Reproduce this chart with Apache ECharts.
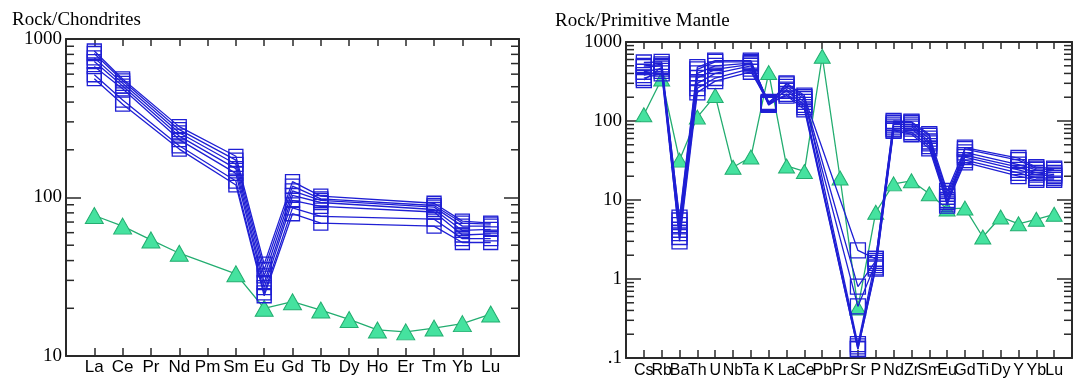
<!DOCTYPE html>
<html>
<head>
<meta charset="utf-8">
<script src="https://cdn.jsdelivr.net/npm/echarts@6/dist/echarts.min.js"></script>
<style>
html, body { margin: 0; padding: 0; background: #fff; }
#chart { width: 1075px; height: 379px; }
</style>
</head>
<body>
<div id="chart"></div>
<script>
// left panel: chondrite normalised REE
const reeElements = ['La', 'Ce', 'Pr', 'Nd', 'Pm', 'Sm', 'Eu', 'Gd', 'Tb', 'Dy', 'Ho', 'Er', 'Tm', 'Yb', 'Lu'];
const reeSamples = [
    [840, 560, null, 280, null, 182, 38, 126, 102, null, null, null, 92, 71, 69],
    [810, 545, null, 268, null, 172, 35, 118, 98, null, null, null, 89, 69, 68],
    [760, 525, null, 256, null, 162, 32, 110, 96, null, null, null, 87, 66, 66],
    [720, 505, null, 244, null, 152, 29, 103, 93, null, null, null, 84, 62, 63],
    [670, 485, null, 232, null, 142, 27, 96, 88, null, null, null, 81, 58, 59],
    [595, 412, null, 212, null, 127, 25, 86, 76, null, null, null, 73, 55, 55],
    [562, 388, null, 202, null, 120, 24, 79, 69, null, null, null, 66, 52, 52]
];
const reeReference = [77, 66, 54, 44.5, null, 33, 20, 22, 19.5, 17, 14.6, 14.2, 15, 16, 18.4];
const reeMinorTicks = [20, 30, 40, 50, 60, 70, 80, 90, 200, 300, 400, 500, 600, 700, 800, 900];

// right panel: primitive mantle normalised spidergram
const spiderElements = ['Cs', 'Rb', 'Ba', 'Th', 'U', 'Nb', 'Ta', 'K', 'La', 'Ce', 'Pb', 'Pr', 'Sr', 'P', 'Nd', 'Zr', 'Sm', 'Eu', 'Gd', 'Ti', 'Dy', 'Y', 'Yb', 'Lu'];
const spiderSamples = [
    [550, 560, 5.5, 450, 560, null, 560, 165, 290, 200, null, null, 2.3, 1.8, 95, 95, 65, 13, 44, null, null, 32, 25, 24],
    [480, 500, 4.8, 400, 500, null, 540, 170, 270, 190, null, null, 0.8, 1.7, 90, 90, 60, 12, 40, null, null, 28, 24, 22],
    [420, 460, 4.2, 350, 450, null, 520, 160, 250, 175, null, null, 0.45, 1.6, 85, 85, 55, 11, 37, null, null, 26, 22, 21],
    [380, 430, 3.8, 300, 400, null, 500, 175, 240, 160, null, null, 0.14, 1.5, 80, 80, 52, 10, 35, null, null, 24, 21, 20],
    [350, 400, 3.4, 260, 350, null, 460, 160, 220, 150, null, null, 0.13, 1.4, 78, 72, 48, 9.5, 32, null, null, 22, 19, 19],
    [500, 520, 3.0, 230, 320, null, 420, 170, 210, 140, null, null, 0.13, 1.35, 75, 68, 45, 9, 30, null, null, 20, 18, 18],
    [330, 480, 6.0, 480, 580, null, 580, 165, 300, 210, null, null, 0.15, 1.8, 100, 98, 68, 8.5, 46, null, null, 34, 26, 25]
];
const spiderReference = [120, 340, 32, 112, 210, 26, 35, 410, 27, 23, 660, 19, 0.43, 7, 16, 17.5, 12, 7.7, 7.9, 3.4, 6.1, 5, 5.7, 6.6];
const spiderMinorTicks = [0.2, 0.3, 0.4, 0.5, 0.6, 0.7, 0.8, 0.9, 2, 3, 4, 5, 6, 7, 8, 9,
    20, 30, 40, 50, 60, 70, 80, 90, 200, 300, 400, 500, 600, 700, 800, 900];

const BLUE = '#1f1fd4';
const GREEN_LINE = '#23ad70';
const GREEN_FILL = '#45e29f';
const AXIS = '#2a2a2a';
const SERIF = '"Liberation Serif", "Times New Roman", serif';
const SANS = '"Liberation Sans", Arial, sans-serif';

function toPoints(values) {
    let pts = [];
    values.forEach((v, i) => {
        if (v !== null) pts.push([i + 1, v]);
    });
    return pts;
}

function xAxes(gridIndex, names, fontSize, margin) {
    let common = {
        gridIndex: gridIndex,
        type: 'value',
        min: 0,
        max: names.length + 1,
        interval: 1,
        splitLine: {show: false},
        axisLine: {onZero: false, lineStyle: {color: AXIS, width: 2}},
        axisTick: {inside: true, length: 8, lineStyle: {color: AXIS, width: 1.5}}
    };
    return [
        Object.assign({}, common, {
            position: 'bottom',
            axisLabel: {
                margin: margin,
                color: '#000',
                fontFamily: SANS,
                fontSize: fontSize,
                formatter: v => names[v - 1] || ''
            }
        }),
        Object.assign({}, common, {
            position: 'top',
            axisTick: {inside: true, length: 7, lineStyle: {color: AXIS, width: 1.5}},
            axisLabel: {show: false}
        })
    ];
}

function yAxes(gridIndex, min, max) {
    let common = {
        gridIndex: gridIndex,
        type: 'log',
        logBase: 10,
        min: min,
        max: max,
        splitLine: {show: false},
        axisLine: {show: true, onZero: false, lineStyle: {color: AXIS, width: 2}},
        axisTick: {show: true, inside: true, length: 15, lineStyle: {color: AXIS, width: 1.5}},
        axisLabel: {show: false}
    };
    return [
        Object.assign({}, common, {
            position: 'left',
            axisLabel: {
                show: true,
                margin: 4,
                color: '#000',
                fontFamily: SERIF,
                fontSize: 19,
                formatter: v => v < 1 ? '.' + String(v).split('.')[1] : String(v)
            }
        }),
        Object.assign({}, common, {position: 'right'})
    ];
}

function sampleSeries(rows, xIdx, yIdx, size) {
    return rows.map(row => ({
        type: 'line',
        xAxisIndex: xIdx,
        yAxisIndex: yIdx,
        data: toPoints(row),
        symbol: 'rect',
        symbolSize: size,
        lineStyle: {color: BLUE, width: 1.3},
        itemStyle: {color: 'rgba(0,0,0,0)', borderColor: BLUE, borderWidth: 1.3},
        emphasis: {disabled: true},
        z: 3
    }));
}

function referenceSeries(values, xIdx, yIdx, size) {
    return {
        type: 'line',
        xAxisIndex: xIdx,
        yAxisIndex: yIdx,
        data: toPoints(values),
        symbol: 'triangle',
        symbolSize: size,
        lineStyle: {color: GREEN_LINE, width: 1.3},
        itemStyle: {color: GREEN_FILL, borderColor: GREEN_LINE, borderWidth: 1},
        emphasis: {disabled: true},
        z: 2
    };
}

let myChart = echarts.init(document.getElementById('chart'));
myChart.setOption({
    animation: false,
    title: [
        {text: 'Rock/Chondrites', left: 12, top: 11, padding: 0,
            textStyle: {fontFamily: SERIF, fontSize: 19, fontWeight: 'normal', color: '#000'}},
        {text: 'Rock/Primitive Mantle', left: 555, top: 12, padding: 0,
            textStyle: {fontFamily: SERIF, fontSize: 19, fontWeight: 'normal', color: '#000'}}
    ],
    grid: [
        {left: 66, top: 39, width: 453, height: 317},
        {left: 626, top: 42, width: 452, height: 316}
    ],
    xAxis: xAxes(0, reeElements, 17, 3).concat(xAxes(1, spiderElements, 16, 5)),
    yAxis: yAxes(0, 10, 1000).concat(yAxes(1, 0.1, 1000)),
    series: [
        referenceSeries(reeReference, 0, 0, [18, 16]),
        referenceSeries(spiderReference, 2, 2, [16, 14])
    ].concat(sampleSeries(reeSamples, 0, 0, 14), sampleSeries(spiderSamples, 2, 2, 15))
});

// minor ticks (2..9 of each decade) on both side axes, placed through the axes' scales
function minorTickGraphics(values, xIdx, yIdx, xMax) {
    let xl = myChart.convertToPixel({xAxisIndex: xIdx}, 0);
    let xr = myChart.convertToPixel({xAxisIndex: xIdx}, xMax);
    let out = [];
    for (let v of values) {
        let y = myChart.convertToPixel({yAxisIndex: yIdx}, v);
        out.push({type: 'line', silent: true, z: 100,
            shape: {x1: xl, y1: y, x2: xl + 8, y2: y}, style: {stroke: AXIS, lineWidth: 1.5}});
        out.push({type: 'line', silent: true, z: 100,
            shape: {x1: xr, y1: y, x2: xr - 8, y2: y}, style: {stroke: AXIS, lineWidth: 1.5}});
    }
    return out;
}

myChart.setOption({
    graphic: minorTickGraphics(reeMinorTicks, 0, 0, reeElements.length + 1)
        .concat(minorTickGraphics(spiderMinorTicks, 2, 2, spiderElements.length + 1))
});
</script>
</body>
</html>
